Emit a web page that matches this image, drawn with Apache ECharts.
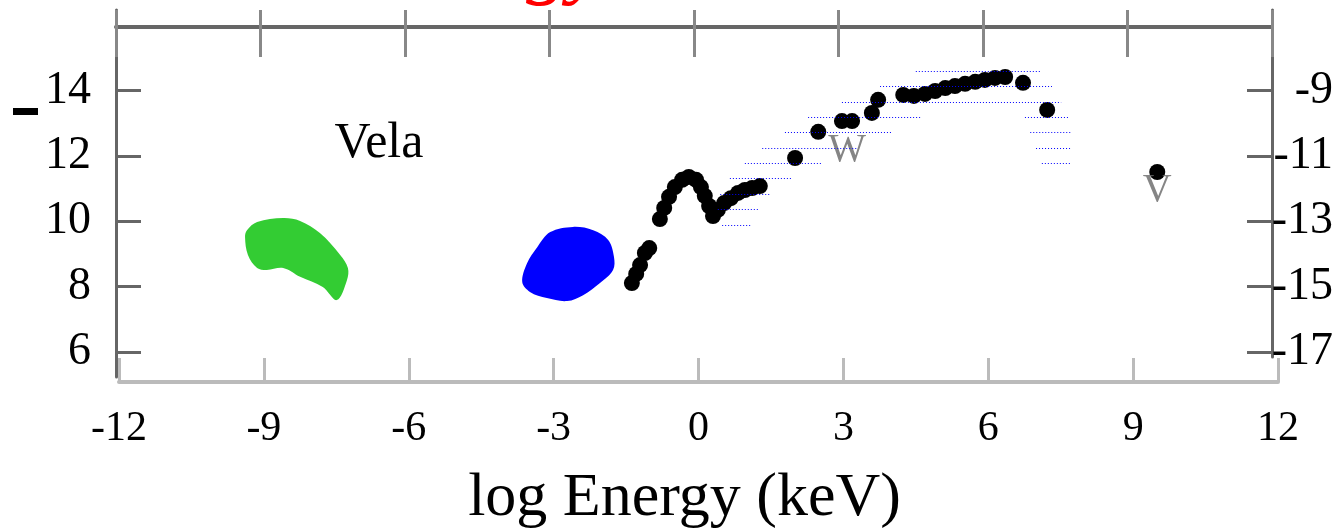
<!DOCTYPE html>
<html><head><meta charset="utf-8">
<script src="https://cdn.jsdelivr.net/npm/echarts@6/dist/echarts.min.js"></script>
<style>html,body{margin:0;padding:0;background:#fff}#c{width:1340px;height:532px}</style>
</head><body><div id="c"></div>
<script>
// ---- data ----
const xTickLabels = [-12, -9, -6, -3, 0, 3, 6, 9, 12];
const yLeftTicks = [6, 8, 10, 12, 14];
const yRightTicks = [-17, -15, -13, -11, -9];

// black data points (log Energy, left-axis value)
const ptX = [-1.38,-1.29,-1.21,-1.11,-1.02,-0.80,-0.71,-0.61,-0.49,-0.34,-0.20,-0.05,0.05,0.13,0.22,0.30,0.40,0.53,0.67,0.82,0.96,1.11,1.27,2.00,2.48,2.97,3.18,3.59,3.72,4.24,4.46,4.69,4.90,5.11,5.31,5.52,5.73,5.93,6.14,6.35,6.72,7.22,9.50];
const ptY = [8.11,8.39,8.66,9.03,9.18,10.07,10.41,10.75,11.05,11.27,11.36,11.27,11.05,10.78,10.47,10.16,10.35,10.56,10.71,10.87,10.96,11.02,11.08,11.94,12.74,13.07,13.07,13.32,13.72,13.87,13.84,13.90,13.99,14.08,14.14,14.21,14.27,14.33,14.39,14.42,14.24,13.41,11.51];

// upper-limit markers
const limX = [3.08, 9.50];
const limY = [12.18, 10.95];
const limGlyph = ['W', 'V'];

// horizontal (blue dotted) error segments
const errX1 = [4.50,3.76,2.97,2.27,6.76,1.79,6.87,1.32,6.99,0.96,7.11,0.65,0.45,0.40,0.49];
const errX2 = [7.09,7.32,7.51,4.63,7.65,4.01,7.71,3.28,7.71,2.56,7.71,1.94,1.48,1.23,1.07];
const errY  = [14.60,14.14,13.65,13.19,13.19,12.74,12.74,12.25,12.25,11.79,11.79,11.33,10.84,10.38,9.89];

// radio region (green) outline
const greenX = [-9.35,-9.14,-8.60,-8.25,-7.84,-7.42,-7.26,-7.28,-7.49,-7.78,-8.25,-8.60,-8.94,-9.14,-9.33,-9.39];
const greenY = [9.73,9.98,10.10,10.01,9.64,8.97,8.57,8.20,7.59,7.99,8.30,8.57,8.51,8.57,8.97,9.52];

// optical region (blue) outline
const blueX = [-3.65,-3.55,-3.34,-3.07,-2.60,-2.18,-1.87,-1.75,-1.77,-2.04,-2.39,-2.72,-3.14,-3.49];
const blueY = [8.14,8.72,9.21,9.67,9.83,9.73,9.43,8.91,8.51,8.11,7.74,7.56,7.65,7.84];

const SERIF = "'Liberation Serif', 'DejaVu Serif', serif";

// ---- chart ----
const chart = echarts.init(document.getElementById('c'), null, {renderer: 'canvas'});

function zip(a, b) { return a.map((v, i) => [v, b[i]]); }

function blob(name, xs, ys, color) {
  const pts = zip(xs, ys);
  return {
    type: 'custom', name: name, xAxisIndex: 0, yAxisIndex: 0, silent: true, z: 2,
    data: [pts[0]],
    renderItem: function (params, api) {
      return {
        type: 'polygon',
        shape: { points: pts.map(p => api.coord(p)), smooth: 0.35 },
        style: { fill: color }
      };
    }
  };
}

const hidden = { show: false, splitLine: { show: false } };
const gridBase = { outerBoundsMode: 'none', containLabel: false };

const option = {
  animation: false,
  backgroundColor: '#ffffff',
  grid: [
    Object.assign({ left: 119, right: 62, top: 27, bottom: 150 }, gridBase),  // data + bottom axis
    Object.assign({ left: 116, right: 68, top: 10, bottom: 155 }, gridBase),  // left axis
    Object.assign({ left: 116, right: 68, top: 10, bottom: 175 }, gridBase),  // right axis
    Object.assign({ left: 116, right: 68, top: 27, height: 100 }, gridBase),  // top axis (inside ticks)
    Object.assign({ left: 116, right: 68, top: 27, height: 100 }, gridBase)   // top axis (outside ticks)
  ],
  xAxis: [
    {
      gridIndex: 0, type: 'value', position: 'bottom', min: -12, max: 12, interval: 3,
      axisLine: { show: true, onZero: false, lineStyle: { color: '#bbbbbb', width: 4 } },
      axisTick: { show: true, inside: true, length: 24, lineStyle: { color: '#bbbbbb', width: 3 } },
      axisLabel: {
        show: true, margin: 26, fontSize: 42, fontFamily: SERIF, color: '#000',
        formatter: function (v) { return xTickLabels.indexOf(v) >= 0 ? String(v) : ''; }
      },
      splitLine: { show: false },
      name: 'log Energy (keV)', nameLocation: 'middle', nameGap: 86,
      nameTextStyle: { fontSize: 62, fontFamily: SERIF, color: '#000', padding: [0, 28, 0, 0] }
    },
    Object.assign({ gridIndex: 1, type: 'value', min: 0, max: 1 }, hidden),
    Object.assign({ gridIndex: 2, type: 'value', min: 0, max: 1 }, hidden),
    {
      gridIndex: 3, type: 'value', position: 'top', min: -12, max: 12, interval: 3,
      axisLine: { show: true, onZero: false, lineStyle: { color: '#666666', width: 4 } },
      axisTick: { show: true, inside: true, length: 30, lineStyle: { color: '#888888', width: 3 } },
      axisLabel: { show: false }, splitLine: { show: false }
    },
    {
      gridIndex: 4, type: 'value', position: 'top', min: -12, max: 12, interval: 3,
      axisLine: { show: false, onZero: false },
      axisTick: { show: true, inside: false, length: 17, lineStyle: { color: '#888888', width: 3 } },
      axisLabel: { show: false }, splitLine: { show: false }
    }
  ],
  yAxis: [
    Object.assign({ gridIndex: 0, type: 'value', min: 5.081, max: 15.95 }, hidden),
    {
      gridIndex: 1, type: 'value', position: 'left', min: 5.234, max: 16.471,
      axisLine: { show: true, onZero: false, lineStyle: { color: '#666666', width: 3 } },
      axisTick: { show: true, inside: true, length: 25, customValues: yLeftTicks, lineStyle: { color: '#666666', width: 3 } },
      axisLabel: { show: true, margin: 25, customValues: yLeftTicks, fontSize: 46, fontFamily: SERIF, color: '#000', padding: [0, 0, 10, 0] },
      splitLine: { show: false }
    },
    {
      gridIndex: 2, type: 'value', position: 'right', min: -17.154, max: -6.529,
      axisLine: { show: true, onZero: false, lineStyle: { color: '#666666', width: 3 } },
      axisTick: { show: true, inside: true, length: 25, customValues: yRightTicks, lineStyle: { color: '#666666', width: 3 } },
      axisLabel: { show: true, margin: 61, align: 'right', customValues: yRightTicks, fontSize: 46, fontFamily: SERIF, color: '#000', padding: [0, 0, 10, 0] },
      splitLine: { show: false }
    },
    Object.assign({ gridIndex: 3, type: 'value', min: 0, max: 1 }, hidden),
    Object.assign({ gridIndex: 4, type: 'value', min: 0, max: 1 }, hidden)
  ],
  series: [
    blob('radio', greenX, greenY, '#33cc33'),
    blob('optical', blueX, blueY, '#0000ff'),
    {
      type: 'scatter', name: 'data', xAxisIndex: 0, yAxisIndex: 0, z: 3,
      symbol: 'circle', symbolSize: 16,
      itemStyle: { color: '#000000', opacity: 1 },
      data: zip(ptX, ptY)
    },
    {
      type: 'scatter', name: 'limits', xAxisIndex: 0, yAxisIndex: 0, z: 3,
      symbolSize: 1, itemStyle: { color: 'rgba(0,0,0,0)' },
      label: {
        show: true, position: 'inside', fontFamily: SERIF, color: '#666666',
        formatter: function (p) { return limGlyph[p.dataIndex]; },
        fontSize: 40
      },
      data: zip(limX, limY)
    },
    {
      type: 'lines', name: 'errors', coordinateSystem: 'cartesian2d', xAxisIndex: 0, yAxisIndex: 0, z: 4,
      polyline: false, silent: true,
      lineStyle: { color: '#0000ff', width: 1, type: [1, 2], opacity: 1 },
      data: errY.map((y, i) => ({ coords: [[errX1[i], y], [errX2[i], y]] }))
    }
  ],
  graphic: [
    { type: 'text', x: 379, y: 144, style: { text: 'Vela', font: '50px ' + SERIF, fill: '#000', textAlign: 'center', textVerticalAlign: 'middle' } },
    { type: 'text', x: 526, y: -36, style: { text: 'gy', font: 'italic 86px ' + SERIF, fill: '#ff0000', textAlign: 'left', textVerticalAlign: 'middle' } },
    { type: 'rect', shape: { x: 13, y: 108, width: 25, height: 7 }, style: { fill: '#000' } }
  ]
};
chart.setOption(option);
</script>
</body></html>
